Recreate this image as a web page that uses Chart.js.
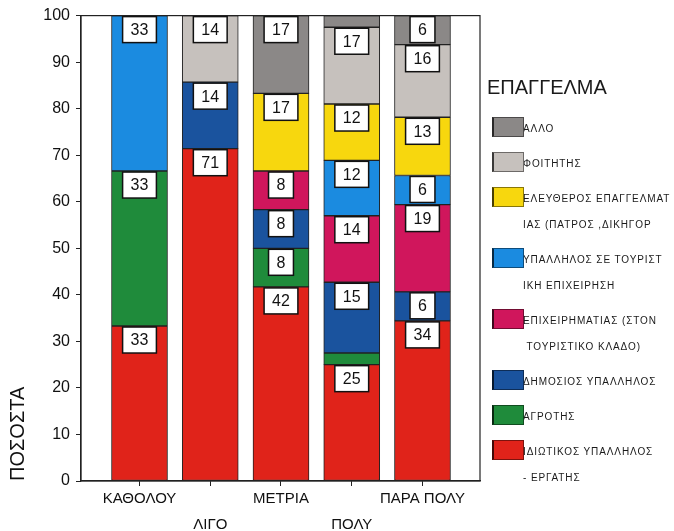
<!DOCTYPE html>
<html lang="el">
<head>
  <meta charset="UTF-8" />
  <title>ΕΠΑΓΓΕΛΜΑ</title>
  <script src="https://cdn.jsdelivr.net/npm/chart.js"></script>
  <style>
    body { margin: 0; background: #fff; font-family: 'Liberation Sans', Arial, sans-serif; }
    #wrap { position: relative; width: 674px; height: 531px; }
    #legend { position: absolute; left: 487px; top: 76px; color: #1a1a1a; }
    #legend h3 { margin: 0 0 18px 0; font-size: 20px; font-weight: normal; line-height: 22px; }
    .item { position: relative; padding-left: 36px; margin-bottom: 9px; }
    .sw { position: absolute; left: 5px; top: 1px; width: 29px; height: 18px;
          border: 1px solid rgba(0,0,0,0.45); border-left: 2px solid rgba(0,0,0,0.7); }
    .item div.t { font-size: 10px; letter-spacing: 0.9px; line-height: 26px; white-space: pre; }
  </style>
</head>
<body>
<div id="wrap">
  <canvas id="c" width="674" height="531"></canvas>
  <div id="legend"><h3>ΕΠΑΓΓΕΛΜΑ</h3></div>
</div>
<script>
  const categories = ['ΚΑΘΟΛΟΥ', 'ΛΙΓΟ', 'ΜΕΤΡΙΑ', 'ΠΟΛΥ', 'ΠΑΡΑ ΠΟΛΥ'];
  // staggered tick labels (second row for ΛΙΓΟ, ΠΟΛΥ)
  const tickRows = [0, 1, 0, 1, 0];

  // series, bottom of the stack first
  const seriesNames = [
    ['ΙΔΙΩΤΙΚΟΣ ΥΠΑΛΛΗΛΟΣ', '- ΕΡΓΑΤΗΣ'],
    ['ΑΓΡΟΤΗΣ'],
    ['ΔΗΜΟΣΙΟΣ ΥΠΑΛΛΗΛΟΣ'],
    ['ΕΠΙΧΕΙΡΗΜΑΤΙΑΣ (ΣΤΟΝ', ' ΤΟΥΡΙΣΤΙΚΟ ΚΛΑΔΟ)'],
    ['ΥΠΑΛΛΗΛΟΣ ΣΕ ΤΟΥΡΙΣΤ', 'ΙΚΗ ΕΠΙΧΕΙΡΗΣΗ'],
    ['ΕΛΕΥΘΕΡΟΣ ΕΠΑΓΓΕΛΜΑΤ', 'ΙΑΣ (ΠΑΤΡΟΣ ,ΔΙΚΗΓΟΡ'],
    ['ΦΟΙΤΗΤΗΣ'],
    ['ΑΛΛΟ']
  ];
  const seriesColors = ['#e0231a', '#1f8b3b', '#1a539e', '#d0165c', '#1b8be0', '#f7d70e', '#c6c1bd', '#8b8887'];

  const idiotikos   = [33.3, 71.4, 41.7, 25.0, 34.4];
  const agrotis     = [33.3, 0,    8.3,  2.5,  0];
  const dimosios    = [0,    14.3, 8.3,  15.2, 6.25];
  const epixeirim   = [0,    0,    8.3,  14.3, 18.75];
  const touristiki  = [33.4, 0,    0,    11.9, 6.25];
  const eleftheros  = [0,    0,    16.7, 12.1, 12.5];
  const foititis    = [0,    14.3, 0,    16.5, 15.6];
  const allo        = [0,    0,    16.7, 2.5,  6.25];
  const seriesValues = [idiotikos, agrotis, dimosios, epixeirim, touristiki, eleftheros, foititis, allo];

  const yTicks = [0, 10, 20, 30, 40, 50, 60, 70, 80, 90, 100];

  const FONT = "'Liberation Sans', Arial, sans-serif";

  const datasets = seriesValues.map((vals, s) => ({
    label: seriesNames[s].join(''),
    data: vals.map((v, i) => ({ x: i, y: v === 0 ? null : v })),
    backgroundColor: seriesColors[s],
    borderColor: '#222',
    borderWidth: 1,
    borderSkipped: false,
    barThickness: 56
  }));

  // white boxed value labels at the top of each segment
  const boxLabels = {
    id: 'boxLabels',
    afterDatasetsDraw(chart) {
      const ctx = chart.ctx;
      ctx.save();
      ctx.font = '16px ' + FONT;
      ctx.textAlign = 'center';
      ctx.textBaseline = 'middle';
      chart.data.datasets.forEach((ds, di) => {
        chart.getDatasetMeta(di).data.forEach((bar, i) => {
          const v = ds.data[i].y;
          if (v == null || v < 5) return;
          const txt = String(Math.round(v));
          const w = ctx.measureText(txt).width + 16;
          const h = 26;
          const top = bar.y + 1;
          ctx.fillStyle = '#fff';
          ctx.fillRect(bar.x - w / 2, top, w, h);
          ctx.strokeStyle = '#111';
          ctx.lineWidth = 1.5;
          ctx.strokeRect(bar.x - w / 2, top, w, h);
          ctx.fillStyle = '#111';
          ctx.fillText(txt, bar.x, top + h / 2 + 1);
        });
      });
      ctx.restore();
    }
  };

  const frame = {
    id: 'frame',
    afterDraw(chart) {
      const a = chart.chartArea, ctx = chart.ctx;
      ctx.save();
      ctx.strokeStyle = '#222';
      ctx.lineWidth = 1.2;
      ctx.strokeRect(a.left, a.top, a.right - a.left, a.bottom - a.top);
      ctx.restore();
    }
  };

  new Chart(document.getElementById('c'), {
    type: 'bar',
    data: { datasets },
    plugins: [boxLabels, frame],
    options: {
      responsive: false,
      animation: false,
      layout: { padding: { left: 0, top: 15, right: 194, bottom: 0 } },
      plugins: { legend: { display: false }, tooltip: { enabled: false } },
      scales: {
        x: {
          type: 'linear',
          stacked: true,
          offset: false,
          min: -0.827,
          max: 4.813,
          afterBuildTicks: s => { s.ticks = categories.map((c, i) => ({ value: i })); },
          afterFit: s => { s.height = 50; },
          grid: { display: true, offset: false, drawOnChartArea: false, tickLength: 5, color: '#222' },
          border: { display: true, color: '#222', width: 1.2 },
          ticks: {
            autoSkip: false,
            maxRotation: 0,
            padding: 0,
            color: '#111',
            font: { family: FONT, size: 15, lineHeight: '26px' },
            callback: v => tickRows[v] ? ['', categories[v]] : [categories[v]]
          }
        },
        y: {
          stacked: true,
          min: 0,
          max: 100,
          afterBuildTicks: s => { s.ticks = yTicks.map(v => ({ value: v })); },
          afterFit: s => { s.width = 81; },
          grid: { display: true, drawOnChartArea: false, tickLength: 5, color: '#222' },
          border: { display: true, color: '#222', width: 1.2 },
          ticks: { padding: 6, color: '#111', font: { family: FONT, size: 16 } },
          title: {
            display: true,
            text: 'ΠΟΣΟΣΤΑ',
            align: 'start',
            color: '#111',
            font: { family: FONT, size: 20 },
            padding: { top: 6, bottom: 0 }
          }
        }
      }
    }
  });

  // legend, top to bottom = reverse of the stack
  const legend = document.getElementById('legend');
  for (let s = seriesNames.length - 1; s >= 0; s--) {
    const item = document.createElement('div');
    item.className = 'item';
    const sw = document.createElement('span');
    sw.className = 'sw';
    sw.style.background = seriesColors[s];
    item.appendChild(sw);
    seriesNames[s].forEach(line => {
      const t = document.createElement('div');
      t.className = 't';
      t.textContent = line;
      item.appendChild(t);
    });
    legend.appendChild(item);
  }
</script>
</body>
</html>
